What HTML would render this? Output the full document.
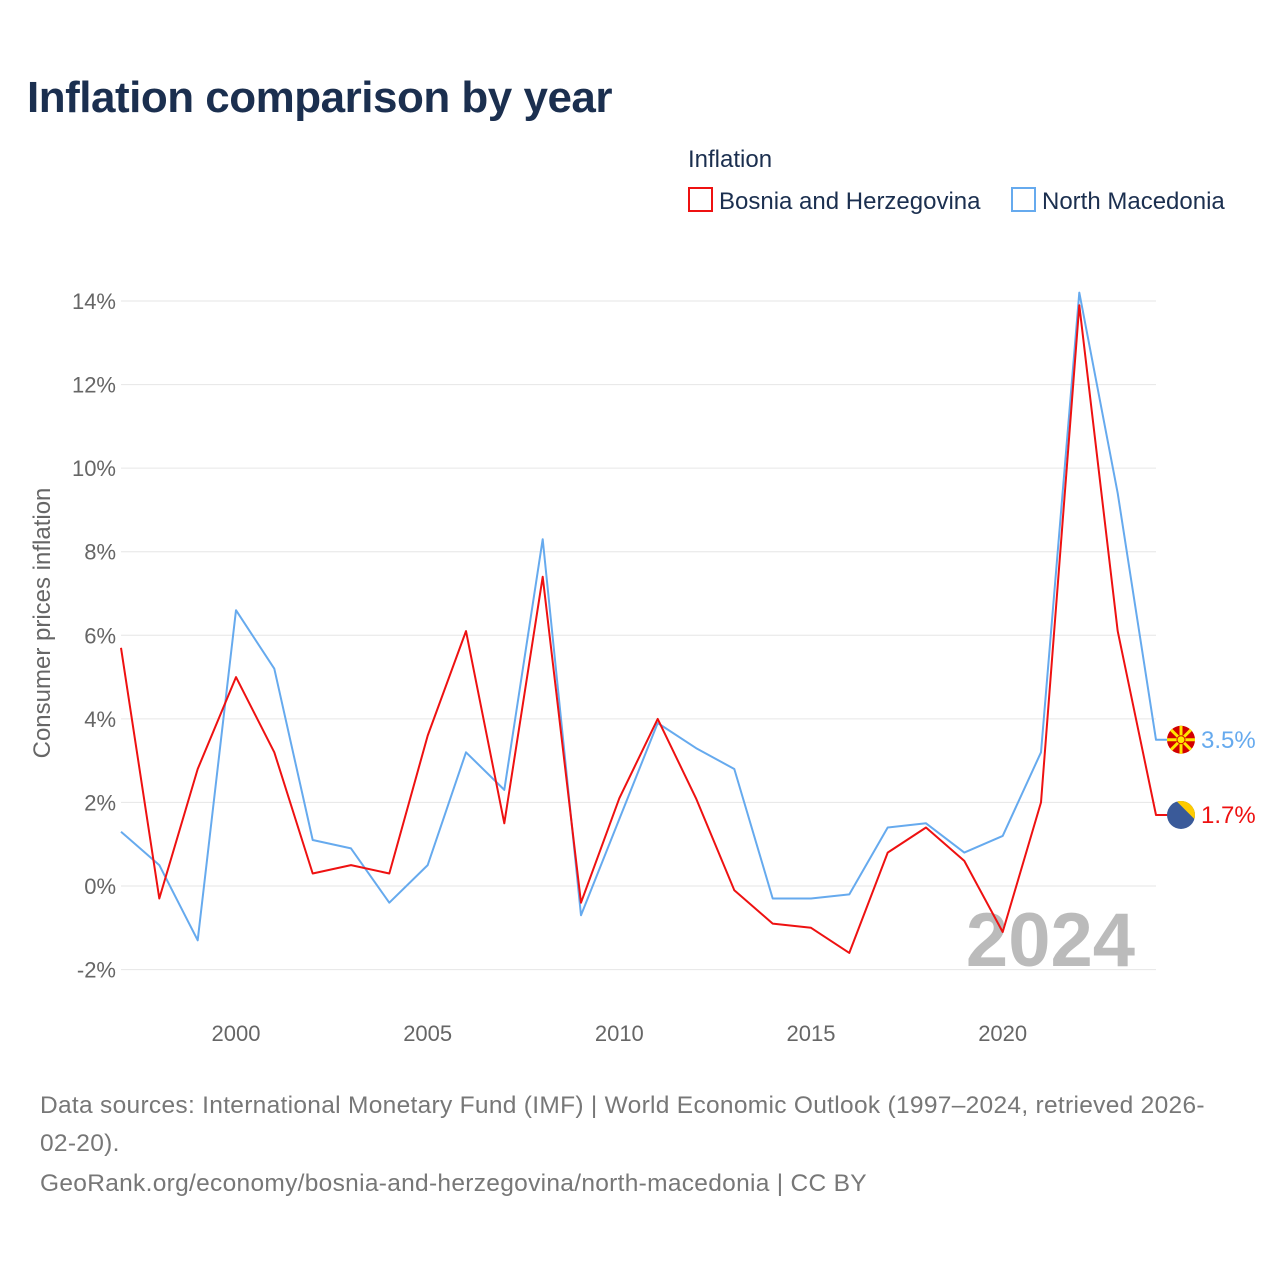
<!DOCTYPE html>
<html><head><meta charset="utf-8">
<style>
body{margin:0;background:#fff;font-family:"Liberation Sans","DejaVu Sans",sans-serif;}
svg text{font-family:"Liberation Sans","DejaVu Sans",sans-serif;}
</style></head>
<body>
<svg id="chart" width="1280" height="1280" viewBox="0 0 1280 1280">
<text x="27" y="112" font-size="44" font-weight="bold" fill="#1b2f4f" letter-spacing="-0.5">Inflation comparison by year</text>
<text x="688" y="167" font-size="24" fill="#1b2f4f">Inflation</text>
<g>
<rect x="689" y="188" width="23" height="23" fill="none" stroke="#ee1111" stroke-width="2"/>
<text x="719" y="209" font-size="24" fill="#1b2f4f">Bosnia and Herzegovina</text></g>
<g>
<rect x="1012" y="188" width="23" height="23" fill="none" stroke="#66aaee" stroke-width="2"/>
<text x="1042" y="209" font-size="24" fill="#1b2f4f">North Macedonia</text></g>
<text transform="translate(50,623) rotate(-90)" text-anchor="middle" font-size="24" fill="#666">Consumer prices inflation</text>
<g id="grid"></g><g id="yticks"></g><g id="xticks"></g>
<text x="1135" y="966" text-anchor="end" font-size="76" font-weight="bold" fill="#bbb">2024</text>
<g id="series"></g>
<text x="40" y="1113" font-size="24.5" letter-spacing="0.3" fill="#777">Data sources: International Monetary Fund (IMF) | World Economic Outlook (1997–2024, retrieved 2026-</text>
<text x="40" y="1151" font-size="24.5" letter-spacing="0.3" fill="#777">02-20).</text>
<text x="40" y="1191" font-size="24.5" letter-spacing="0.3" fill="#777">GeoRank.org/economy/bosnia-and-herzegovina/north-macedonia | CC BY</text>
</svg>
<script>
const years=[1997,1998,1999,2000,2001,2002,2003,2004,2005,2006,2007,2008,2009,2010,2011,2012,2013,2014,2015,2016,2017,2018,2019,2020,2021,2022,2023,2024];
const bosnia=[5.7,-0.3,2.8,5.0,3.2,0.3,0.5,0.3,3.6,6.1,1.5,7.4,-0.4,2.1,4.0,2.1,-0.1,-0.9,-1.0,-1.6,0.8,1.4,0.6,-1.1,2.0,13.9,6.1,1.7];
const macedonia=[1.3,0.5,-1.3,6.6,5.2,1.1,0.9,-0.4,0.5,3.2,2.3,8.3,-0.7,1.6,3.9,3.3,2.8,-0.3,-0.3,-0.2,1.4,1.5,0.8,1.2,3.2,14.2,9.4,3.5];
const yTicks=[-2,0,2,4,6,8,10,12,14];
const xTicks=[2000,2005,2010,2015,2020];
const NS='http://www.w3.org/2000/svg';
const X=y=>121+(y-1997)*(1156-121)/27;
const Y=v=>886-v*(886-301)/14;
function mk(t,a,p){const e=document.createElementNS(NS,t);for(const k in a)e.setAttribute(k,a[k]);p.appendChild(e);return e;}
const grid=document.getElementById('grid'),yt=document.getElementById('yticks'),xt=document.getElementById('xticks'),ser=document.getElementById('series');
yTicks.forEach(v=>{
const l=mk('line',{x1:121,x2:1156,y1:Y(v),y2:Y(v),stroke:'#e6e6e6','stroke-width':1},grid);


const t=mk('text',{x:116,y:Y(v)+8,'text-anchor':'end','font-size':22,fill:'#666'},yt);
t.textContent=v+'%';


});
xTicks.forEach(v=>{
const t=mk('text',{x:X(v),y:1041,'text-anchor':'middle','font-size':22,fill:'#666'},xt);
t.textContent=v;


});
function line(vals,color,name){
const d=vals.map((v,i)=>(i?'L':'M')+X(years[i]).toFixed(1)+','+Y(v).toFixed(1)).join('')+'h14';
const p=mk('path',{d:d,fill:'none',stroke:color,'stroke-width':2,'stroke-linejoin':'round'},ser);


}
line(macedonia,'#66aaee','line-north-macedonia');
line(bosnia,'#ee1111','line-bosnia');
const lm=macedonia[macedonia.length-1],lb=bosnia[bosnia.length-1];
const f1=mk('g',{},ser);


mk('circle',{cx:1181,cy:Y(lm),r:14,fill:'#d20000'},f1);
for(let a=0;a<8;a++){const r=a*Math.PI/4;mk('line',{x1:1181,y1:Y(lm),x2:1181+14*Math.cos(r),y2:Y(lm)+14*Math.sin(r),stroke:'#ffe600','stroke-width':3},f1);}
mk('circle',{cx:1181,cy:Y(lm),r:4,fill:'#ffe600',stroke:'#d20000','stroke-width':1},f1);
const f2=mk('g',{},ser);


mk('circle',{cx:1181,cy:Y(lb),r:14,fill:'#3a5a99'},f2);
mk('path',{d:`M${1181-4},${Y(lb)-13.4} L${1181+13.4},${Y(lb)+4} A14,14 0 0 0 ${1181-4},${Y(lb)-13.4}Z`,fill:'#fecb00'},f2);
const t1=mk('text',{x:1201,y:Y(lm)+8,'font-size':24,fill:'#66aaee'},ser);
t1.textContent=lm+'%';


const t2=mk('text',{x:1201,y:Y(lb)+8,'font-size':24,fill:'#ee1111'},ser);
t2.textContent=lb+'%';


</script>
</body></html>
